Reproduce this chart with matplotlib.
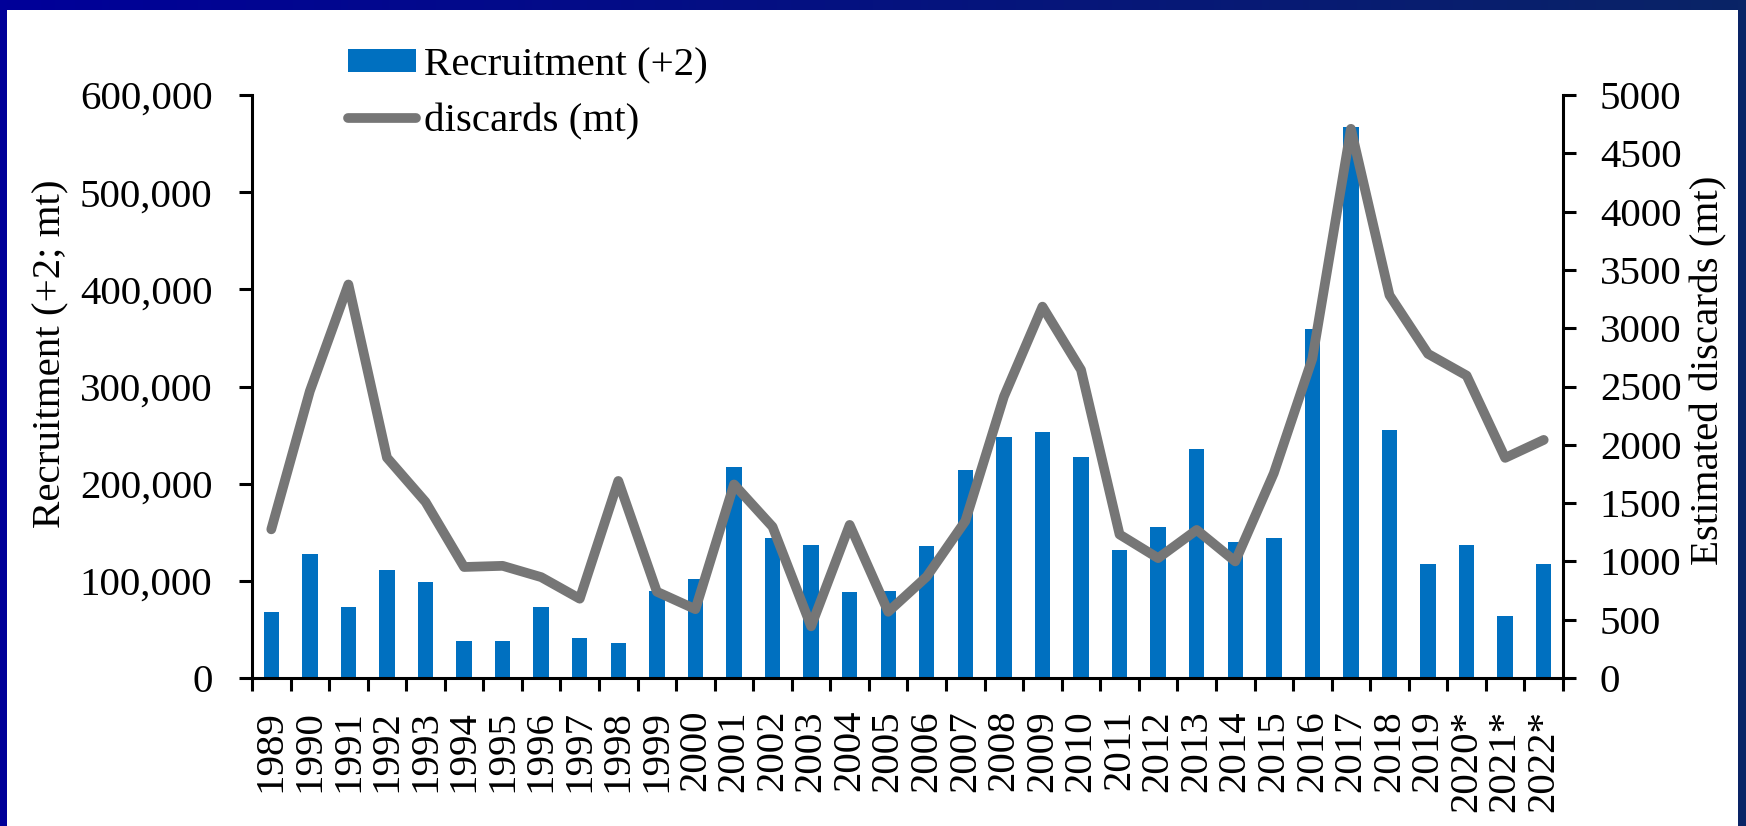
import matplotlib
matplotlib.use('Agg')
import matplotlib.pyplot as plt
import numpy as np
from matplotlib.patches import Rectangle
from matplotlib.colors import LinearSegmentedColormap
from matplotlib.ticker import FuncFormatter, MultipleLocator, FixedLocator

# data
years = ['1989', '1990', '1991', '1992', '1993', '1994', '1995', '1996', '1997', '1998',
         '1999', '2000', '2001', '2002', '2003', '2004', '2005', '2006', '2007', '2008',
         '2009', '2010', '2011', '2012', '2013', '2014', '2015', '2016', '2017', '2018',
         '2019', '2020*', '2021*', '2022*']
recruitment = [67500, 128000, 72600, 110700, 98500, 38000, 38000, 72600, 41000, 36000,
               89500, 102000, 216700, 144000, 137000, 88300, 90000, 135500, 213600, 248000,
               253000, 227000, 131500, 155900, 235600, 140000, 144000, 359000, 567000, 255000,
               117800, 137000, 63600, 117800]
discards = [1275, 2460, 3375, 1890, 1510, 952, 962, 865, 680, 1690,
            740, 590, 1660, 1297, 443, 1313, 568, 870, 1346, 2413,
            3185, 2643, 1231, 1028, 1270, 1000, 1756, 2740, 4710, 3283,
            2780, 2594, 1888, 2042]

plt.rcParams['font.family'] = ['Liberation Serif', 'DejaVu Serif']
fs = 29.5
W, H = 1746, 826

fig = plt.figure(figsize=(W / 100, H / 100), dpi=100)
fig.patch.set_facecolor('white')

# blue frame round the picture
top_h = 10 / H
band = fig.add_axes([0, 1 - top_h, 1, top_h])
grad = np.linspace(0, 1, 256).reshape(1, -1)
cmap = LinearSegmentedColormap.from_list('frame', ['#000099', '#0A2466'])
band.imshow(grad, aspect='auto', cmap=cmap)
band.axis('off')
fig.patches.append(Rectangle((0, 0), 7 / W, 1, transform=fig.transFigure,
                             facecolor='#000099', edgecolor='none', zorder=0))
fig.patches.append(Rectangle((1 - 8 / W, 0), 8 / W, 1, transform=fig.transFigure,
                             facecolor='#0A2466', edgecolor='none', zorder=0))

ax = fig.add_axes([252 / W, 1 - 678 / H, (1563 - 252) / W, (678 - 95) / H])
x = np.arange(len(years))
bars = ax.bar(x, recruitment, width=0.4, color='#0070C0', label='Recruitment (+2)', zorder=2)

ax.set_xlim(-0.5, len(years) - 0.5)
ax.set_ylim(0, 600000)
ax.yaxis.set_major_locator(MultipleLocator(100000))
ax.yaxis.set_major_formatter(FuncFormatter(lambda v, p: f'{int(v):,}'))

# ticks between categories, labels at the centres
ax.xaxis.set_major_locator(FixedLocator(np.arange(-0.5, len(years), 1.0)))
ax.xaxis.set_major_formatter(FuncFormatter(lambda v, p: ''))
ax.set_xticks(x, years, minor=True, rotation=90, fontsize=fs)
ax.tick_params(axis='x', which='major', direction='out', length=9.5, width=2.2)
ax.tick_params(axis='x', which='minor', length=0, pad=23)
ax.tick_params(axis='y', direction='out', length=9.5, width=2.2, labelsize=fs, pad=19)

for s in ['top', 'right']:
    ax.spines[s].set_visible(False)
for s in ['left', 'bottom']:
    ax.spines[s].set_linewidth(2.2)

ax.set_ylabel('Recruitment (+2; mt)', fontsize=fs)
ax.yaxis.set_label_coords(-0.139, 0.557)

ax2 = ax.twinx()
line, = ax2.plot(x, discards, color='#767676', lw=7, solid_joinstyle='round',
                 solid_capstyle='round', label='discards (mt)')
ax2.set_ylim(0, 5000)
ax2.yaxis.set_major_locator(MultipleLocator(500))
ax2.tick_params(axis='y', direction='out', length=9.5, width=2.2, labelsize=fs, pad=17)
for s in ['top', 'left', 'bottom']:
    ax2.spines[s].set_visible(False)
ax2.spines['right'].set_linewidth(2.2)
ax2.set_ylabel('Estimated discards (mt)', fontsize=fs, rotation=90)
ax2.yaxis.set_label_coords(1.097, 0.528)

fig.legend([bars, line], ['Recruitment (+2)', 'discards (mt)'], loc='upper left',
           bbox_to_anchor=(348 / W, 1 - 47 / H), bbox_transform=fig.transFigure,
           frameon=False, fontsize=fs, borderpad=0, borderaxespad=0,
           handlelength=1.65, handleheight=0.5, handletextpad=0.2, labelspacing=0.47)

fig.savefig('out.png', dpi=100, facecolor='white')
